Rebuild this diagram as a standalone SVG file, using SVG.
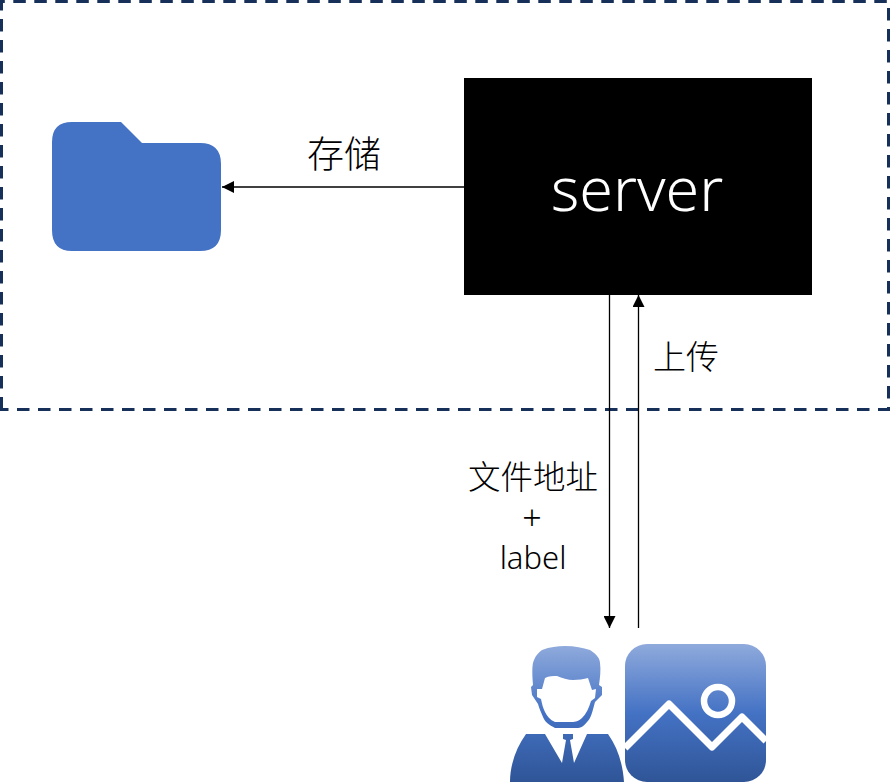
<svg xmlns="http://www.w3.org/2000/svg" width="890" height="782" viewBox="0 0 890 782">
<defs>
<style>
.t{font-family:"Noto Sans CJK SC","Liberation Sans",sans-serif;font-weight:300;fill:#000;text-anchor:middle}
.l{font-family:"Noto Sans","Liberation Sans",sans-serif;font-weight:300;fill:#000;text-anchor:middle}
.c{stroke:#000;stroke-width:1.3;fill:none;marker-end:url(#a)}
</style>
<marker id="a" markerUnits="userSpaceOnUse" markerWidth="12" markerHeight="12" refX="12" refY="6" orient="auto"><path d="M0 0L12 6L0 12Z" fill="#000"/></marker>
<linearGradient id="g" x1="0" y1="0" x2="0" y2="1"><stop offset="0" stop-color="#8faadc"/><stop offset=".5" stop-color="#4472c4"/><stop offset="1" stop-color="#2f5597"/></linearGradient>
<linearGradient id="u" gradientUnits="userSpaceOnUse" x1="0" y1="646" x2="0" y2="782"><stop offset="0" stop-color="#8faadc"/><stop offset=".5" stop-color="#4472c4"/><stop offset="1" stop-color="#2f5597"/></linearGradient>
</defs>
<g id="boundary"><path d="M-7.700 1.500H890M888.500 8V410M-4 409.500H890M1.500 -2V410" fill="none" stroke="#16305a" stroke-width="3" stroke-dasharray="12.500 8.500"/></g>
<g id="folder"><path d="M72 122H121L142 143H200Q221 143 221 164V230Q221 251 200 251H72Q52 251 52 230V142Q52 122 72 122Z" fill="#4472c4"/></g>
<g id="server"><rect x="464" y="78" width="348" height="217" fill="#000"/><text x="637" y="211" font-size="61" class="l" style="fill:#fff">server</text></g>
<g id="user"><path fill="url(#u)" d="M533 685C532 672 532 664 534 660C536 655 539 652 542 650C550 647 557 646 565 646C575 646 583 648 590 650C596 654 600 658 600 663C601 670 600 678 599 685L602 687L602 695L595 702C593 709 592 714 590 718C586 724 582 728 578 728H555C549 725 545 722 543 717C541 712 539 708 538 704L532 695L531 687Z"/>
<path fill="#fff" d="M545 678C549 676 553 676 557 676C562 678 568 680 573 680C578 680 584 679 588 678L592 690L596 689L595 698L591 701C589 708 586 714 582 718C578 722 574 722 570 722H555C550 720 547 716 545 712C543 708 542 704 541 699L537 697L537 689L542 689Z"/>
<path fill="url(#u)" d="M526 734H545L562 763L566 740L563 739V734H573V739L570 740L574 763L587 734H608C618 748 623 765 624 782H510C510 765 516 748 526 734Z"/></g>
<g id="image"><rect x="625" y="644" width="141" height="138" rx="22" fill="url(#g)"/><path d="M625 748L669 704L712 747L742 717L766 741" fill="none" stroke="#fff" stroke-width="7" stroke-linejoin="round"/><circle cx="718" cy="701" r="14" fill="none" stroke="#fff" stroke-width="6.500"/></g>
<g id="connectors">
<path class="c" d="M464 187H222"/>
<path class="c" d="M609.500 295V628"/>
<path class="c" d="M638.500 628V295"/>
</g>
<g id="labels">
<text x="344" y="168" font-size="37" class="t">存储</text>
<text x="686" y="369" font-size="33" class="t">上传</text>
<text x="533" y="489" font-size="32.500" class="t">文件地址</text>
<text x="532" y="530" font-size="34" class="l">+</text>
<text x="533" y="569" font-size="31" class="l">label</text>
</g>
</svg>
